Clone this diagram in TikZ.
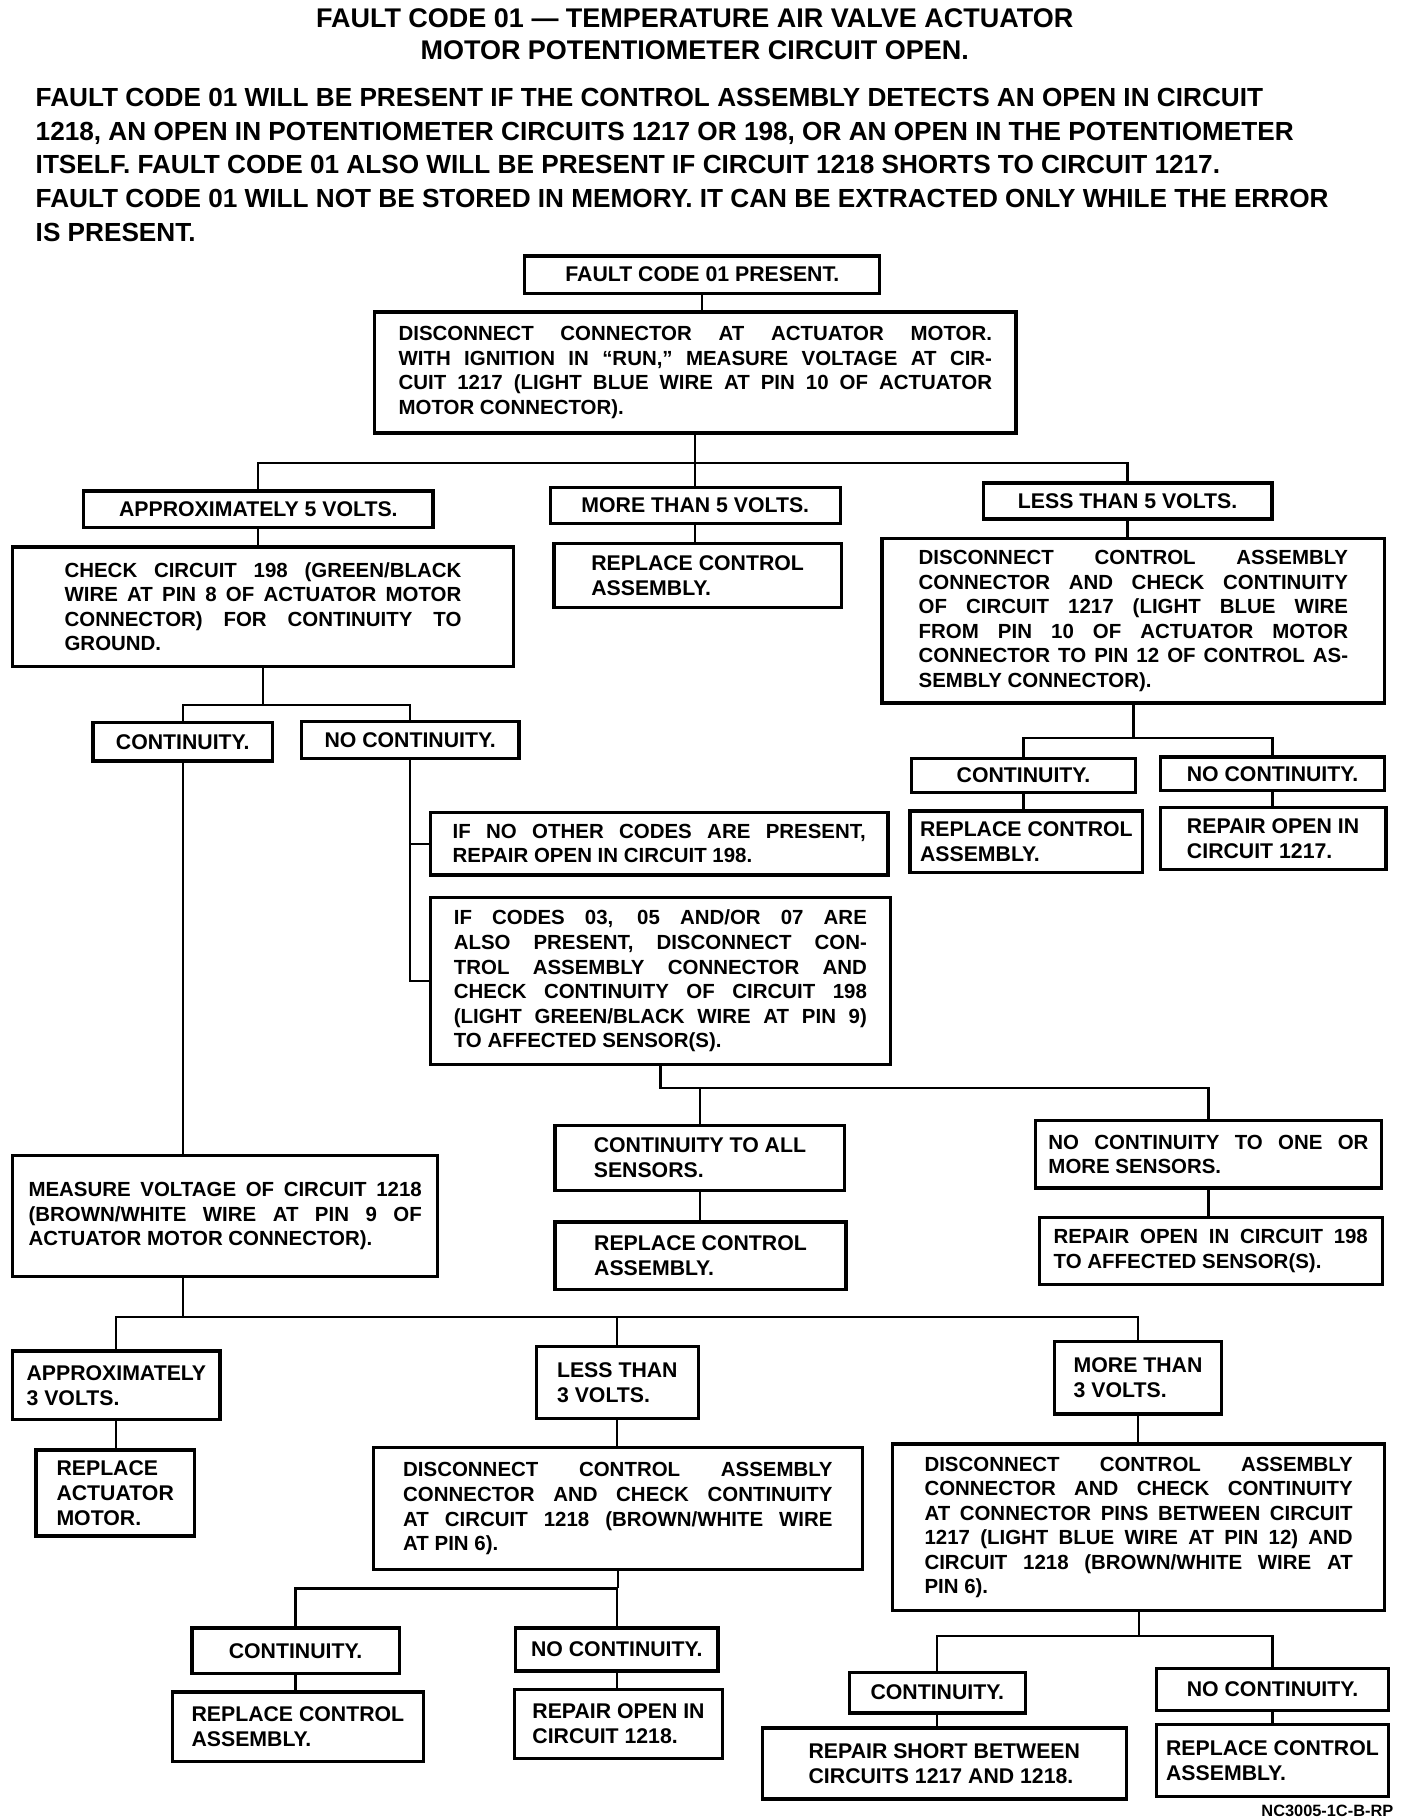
\documentclass[tikz,border=0pt]{standalone}
\usepackage{fontspec}
\setmainfont{Liberation Sans}
\usepackage{tikz}
\newcommand{\flowfont}{\fontsize{5}{6}\selectfont\bfseries\tolerance=10000\hyphenpenalty=10000}
\newcommand{\labelfont}{\fontsize{5.2}{6.1}\selectfont\bfseries}
\newcommand{\introfont}{\fontsize{6.4}{8.24}\selectfont\bfseries}
\newcommand{\headfont}{\fontsize{6.6}{7.74}\selectfont\bfseries}
\newcommand{\tagfont}{\fontsize{4}{4.8}\selectfont\bfseries}
\tikzset{%
    box/.style={draw, line width=0.8pt, inner sep=0pt, font=\labelfont, align=left},
    para/.style={box, font=\flowfont, align=justify},
    wire/.style={line width=0.55pt}
}

\begin{document}
\begin{tikzpicture}
\useasboundingbox (0,0) rectangle (12.10,-15.623);

\node[align=center, font=\headfont, inner sep=0pt] (title) at (5.97,-0.295)
  {FAULT CODE 01 — TEMPERATURE AIR VALVE ACTUATOR\\MOTOR POTENTIOMETER CIRCUIT OPEN.};
\node[anchor=north west, align=left, font=\introfont, inner sep=0pt] (intro) at (0.30,-0.75)
  {FAULT CODE 01 WILL BE PRESENT IF THE CONTROL ASSEMBLY DETECTS AN OPEN IN CIRCUIT\\
   1218, AN OPEN IN POTENTIOMETER CIRCUITS 1217 OR 198, OR AN OPEN IN THE POTENTIOMETER\\
   ITSELF. FAULT CODE 01 ALSO WILL BE PRESENT IF CIRCUIT 1218 SHORTS TO CIRCUIT 1217.\\
   FAULT CODE 01 WILL NOT BE STORED IN MEMORY. IT CAN BE EXTRACTED ONLY WHILE THE ERROR\\
   IS PRESENT.};

% first measurement
\node[box, minimum width=3.05cm, minimum height=0.32cm] (b0) at (6.035,-2.36) {FAULT CODE 01 PRESENT.};
\node[para, minimum width=5.51cm, minimum height=1.04cm, text width=5.10cm] (b1) at (5.975,-3.20)
  {DISCONNECT CONNECTOR AT ACTUATOR MOTOR.\linebreak
   WITH IGNITION IN “RUN,” MEASURE VOLTAGE AT CIR-\linebreak
   CUIT 1217 (LIGHT BLUE WIRE AT PIN 10 OF ACTUATOR\linebreak
   MOTOR CONNECTOR).};

\node[box, minimum width=3.00cm, minimum height=0.31cm] (a5) at (2.22,-4.375) {APPROXIMATELY 5 VOLTS.};
\node[box, minimum width=2.49cm, minimum height=0.31cm] (m5) at (5.975,-4.345) {MORE THAN 5 VOLTS.};
\node[box, minimum width=2.48cm, minimum height=0.31cm] (l5) at (9.69,-4.305) {LESS THAN 5 VOLTS.};

\node[para, minimum width=4.30cm, minimum height=1.03cm, text width=3.41cm] (chk) at (2.26,-5.215)
  {CHECK CIRCUIT 198 (GREEN/BLACK\linebreak
   WIRE AT PIN 8 OF ACTUATOR MOTOR\linebreak
   CONNECTOR) FOR CONTINUITY TO\linebreak
   GROUND.};
\node[box, minimum width=2.47cm, minimum height=0.55cm] (rep1) at (5.995,-4.945) {REPLACE CONTROL\\ASSEMBLY.};
\node[para, minimum width=4.32cm, minimum height=1.41cm, text width=3.69cm] (dis1) at (9.74,-5.335)
  {DISCONNECT CONTROL ASSEMBLY\linebreak
   CONNECTOR AND CHECK CONTINUITY\linebreak
   OF CIRCUIT 1217 (LIGHT BLUE WIRE\linebreak
   FROM PIN 10 OF ACTUATOR MOTOR\linebreak
   CONNECTOR TO PIN 12 OF CONTROL AS-\linebreak
   SEMBLY CONNECTOR).};

% circuit 198 branch
\node[box, minimum width=1.54cm, minimum height=0.33cm] (cont1) at (1.57,-6.375) {CONTINUITY.};
\node[box, minimum width=1.87cm, minimum height=0.32cm] (ncont1) at (3.525,-6.36) {NO CONTINUITY.};
\node[para, minimum width=3.93cm, minimum height=0.54cm, text width=3.55cm] (ifno) at (5.665,-7.25)
  {IF NO OTHER CODES ARE PRESENT,\linebreak
   REPAIR OPEN IN CIRCUIT 198.};
\node[para, minimum width=3.95cm, minimum height=1.44cm, text width=3.55cm] (ifcodes) at (5.675,-8.43)
  {IF CODES 03, 05 AND/OR 07 ARE\linebreak
   ALSO PRESENT, DISCONNECT CON-\linebreak
   TROL ASSEMBLY CONNECTOR AND\linebreak
   CHECK CONTINUITY OF CIRCUIT 198\linebreak
   (LIGHT GREEN/BLACK WIRE AT PIN 9)\linebreak
   TO AFFECTED SENSOR(S).};
\node[box, minimum width=2.49cm, minimum height=0.56cm] (ct2) at (6.015,-9.95) {CONTINUITY TO ALL\\SENSORS.};
\node[box, minimum width=2.50cm, minimum height=0.58cm] (rep2) at (6.02,-10.79) {REPLACE CONTROL\\ASSEMBLY.};
\node[para, minimum width=2.97cm, minimum height=0.58cm, text width=2.75cm] (nc2) at (10.385,-9.92)
  {NO CONTINUITY TO ONE OR\linebreak
   MORE SENSORS.};
\node[para, minimum width=2.95cm, minimum height=0.58cm, text width=2.70cm] (rep198) at (10.405,-10.75)
  {REPAIR OPEN IN CIRCUIT 198\linebreak
   TO AFFECTED SENSOR(S).};

% circuit 1217 branch
\node[box, minimum width=1.93cm, minimum height=0.29cm] (ct3) at (8.795,-6.665) {CONTINUITY.};
\node[box, minimum width=1.93cm, minimum height=0.29cm] (nc3) at (10.935,-6.65) {NO CONTINUITY.};
\node[box, minimum width=2.00cm, minimum height=0.53cm] (rep3) at (8.82,-7.235) {REPLACE CONTROL\\ASSEMBLY.};
\node[box, minimum width=1.94cm, minimum height=0.53cm] (rp1217) at (10.94,-7.205) {REPAIR OPEN IN\\CIRCUIT 1217.};

% circuit 1218
\node[para, minimum width=3.65cm, minimum height=1.04cm, text width=3.38cm] (meas) at (1.935,-10.45)
  {MEASURE VOLTAGE OF CIRCUIT 1218\linebreak
   (BROWN/WHITE WIRE AT PIN 9 OF\linebreak
   ACTUATOR MOTOR CONNECTOR).};
\node[box, minimum width=1.78cm, minimum height=0.59cm] (ap3) at (1.00,-11.905) {APPROXIMATELY\\3 VOLTS.};
\node[box, minimum width=1.39cm, minimum height=0.62cm] (lt3) at (5.305,-11.88) {LESS THAN\\3 VOLTS.};
\node[box, minimum width=1.44cm, minimum height=0.62cm] (mt3) at (9.78,-11.84) {MORE THAN\\3 VOLTS.};
\node[box, minimum width=1.36cm, minimum height=0.74cm] (rpm) at (0.99,-12.83) {REPLACE\\ACTUATOR\\MOTOR.};
\node[para, minimum width=4.20cm, minimum height=1.05cm, text width=3.69cm] (dis2) at (5.31,-12.965)
  {DISCONNECT CONTROL ASSEMBLY\linebreak
   CONNECTOR AND CHECK CONTINUITY\linebreak
   AT CIRCUIT 1218 (BROWN/WHITE WIRE\linebreak
   AT PIN 6).};
\node[para, minimum width=4.23cm, minimum height=1.43cm, text width=3.68cm] (dis3) at (9.785,-13.125)
  {DISCONNECT CONTROL ASSEMBLY\linebreak
   CONNECTOR AND CHECK CONTINUITY\linebreak
   AT CONNECTOR PINS BETWEEN CIRCUIT\linebreak
   1217 (LIGHT BLUE WIRE AT PIN 12) AND\linebreak
   CIRCUIT 1218 (BROWN/WHITE WIRE AT\linebreak
   PIN 6).};
\node[box, minimum width=1.78cm, minimum height=0.39cm] (ct4) at (2.54,-14.185) {CONTINUITY.};
\node[box, minimum width=1.74cm, minimum height=0.37cm] (nc4) at (5.30,-14.175) {NO CONTINUITY.};
\node[box, minimum width=2.16cm, minimum height=0.60cm] (rp4) at (2.56,-14.84) {REPLACE CONTROL\\ASSEMBLY.};
\node[box, minimum width=1.79cm, minimum height=0.59cm] (rp1218) at (5.315,-14.815) {REPAIR OPEN IN\\CIRCUIT 1218.};
\node[box, minimum width=1.51cm, minimum height=0.35cm] (ct5) at (8.055,-14.545) {CONTINUITY.};
\node[box, minimum width=1.99cm, minimum height=0.36cm] (nc5) at (10.935,-14.52) {NO CONTINUITY.};
\node[box, minimum width=3.13cm, minimum height=0.61cm] (rs) at (8.115,-15.155) {REPAIR SHORT BETWEEN\\CIRCUITS 1217 AND 1218.};
\node[box, minimum width=1.99cm, minimum height=0.62cm] (rp5) at (10.935,-15.13) {REPLACE CONTROL\\ASSEMBLY.};

\node[anchor=east, font=\tagfont, inner sep=0pt] (tag) at (11.98,-15.56) {NC3005-1C-B-RP};

% junctions
\coordinate (j1) at (0,-3.98);
\coordinate (j2) at (0,-6.06);
\coordinate (j4) at (0,-9.35);
\coordinate (j5) at (0,-6.34);
\coordinate (j7) at (0,-11.32);
\coordinate (j9) at (0,-13.65);
\coordinate (j10) at (0,-14.06);

% connectors
\draw[wire] (b0.south) -- (b0.south |- b1.north);
\draw[wire] (b1.south) -- (b1.south |- m5.north);
\draw[wire] (a5.north) |- (j1 -| l5.north) -- (l5.north);
\draw[wire] (a5.south) -- (a5.south |- chk.north);
\draw[wire] (m5.south) -- (m5.south |- rep1.north);
\draw[wire] (l5.south) -- (l5.south |- dis1.north);

\draw[wire] (chk.south) -- (chk.south |- j2);
\draw[wire] (cont1.north) |- (j2 -| ncont1.north) -- (ncont1.north);
\draw[wire] (cont1.south) -- (cont1.south |- meas.north);
\draw[wire] (ncont1.south) |- (ifcodes.west);
\draw[wire] (ifno.west) -- (ifno.west -| ncont1.south);
\draw[wire] (ifcodes.south) |- (j4 -| nc2.north) -- (nc2.north);
\draw[wire] (ct2.north) -- (ct2.north |- j4);
\draw[wire] (ct2.south) -- (ct2.south |- rep2.north);
\draw[wire] (nc2.south) -- (nc2.south |- rep198.north);

\draw[wire] (dis1.south) -- (dis1.south |- j5);
\draw[wire] (ct3.north) |- (j5 -| nc3.north) -- (nc3.north);
\draw[wire] (ct3.south) -- (ct3.south |- rep3.north);
\draw[wire] (nc3.south) -- (nc3.south |- rp1217.north);

\draw[wire] (meas.south -| cont1.south) -- (cont1.south |- j7);
\draw[wire] (ap3.north) |- (j7 -| mt3.north) -- (mt3.north);
\draw[wire] (lt3.north) -- (lt3.north |- j7);
\draw[wire] (ap3.south) -- (ap3.south |- rpm.north);
\draw[wire] (lt3.south) -- (lt3.south |- dis2.north);
\draw[wire] (mt3.south) -- (mt3.south |- dis3.north);

\draw[wire] (dis2.south) -- (dis2.south |- j9);
\draw[wire] (ct4.north) |- (j9 -| nc4.north) -- (nc4.north);
\draw[wire] (ct4.south) -- (ct4.south |- rp4.north);
\draw[wire] (nc4.south) -- (nc4.south |- rp1218.north);
\draw[wire] (dis3.south) -- (dis3.south |- j10);
\draw[wire] (ct5.north) |- (j10 -| nc5.north) -- (nc5.north);
\draw[wire] (ct5.south) -- (ct5.south |- rs.north);
\draw[wire] (nc5.south) -- (nc5.south |- rp5.north);
\end{tikzpicture}
\end{document}
